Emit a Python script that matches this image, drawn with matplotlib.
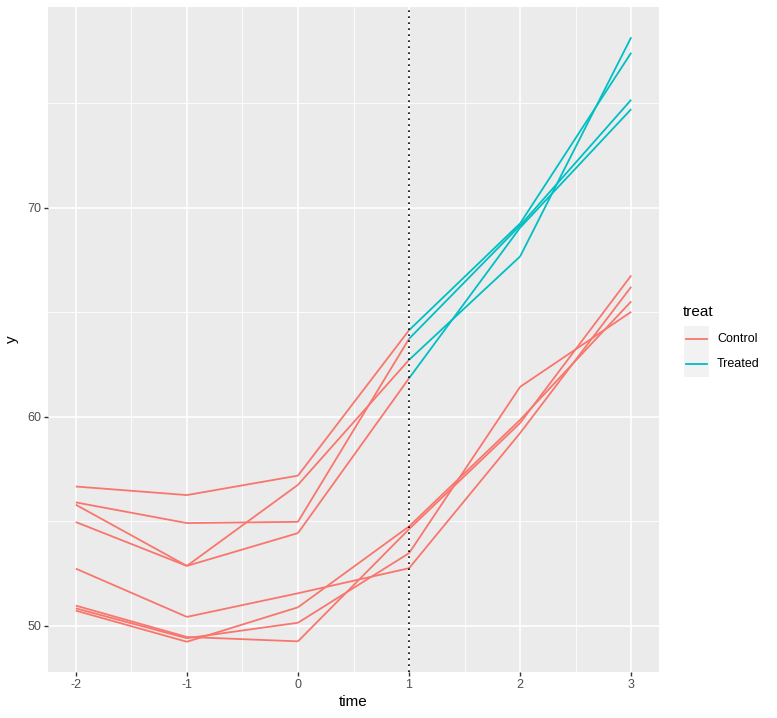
import matplotlib
matplotlib.use("Agg")
import matplotlib.pyplot as plt
from matplotlib.lines import Line2D
from matplotlib.patches import Rectangle
import numpy as np

plt.rcParams["font.family"] = ["Liberation Sans", "DejaVu Sans"]

times = [-2, -1, 0, 1, 2, 3]
treat_start = 1
units = ["u1", "u2", "u3", "u4", "u5", "u6", "u7", "u8"]
treated_units = ["u1", "u2", "u3", "u4"]
u1 = [56.66, 56.25, 57.18, 64.14, 69.25, 77.42]
u2 = [55.90, 54.91, 54.97, 63.73, 69.15, 75.17]
u3 = [55.79, 52.86, 56.74, 62.72, 67.67, 78.16]
u4 = [54.96, 52.86, 54.43, 61.84, 69.05, 74.72]
u5 = [52.73, 50.42, 51.55, 52.75, 59.22, 66.22]
u6 = [50.72, 49.23, 50.88, 54.75, 59.85, 65.52]
u7 = [50.83, 49.40, 50.14, 53.47, 61.43, 65.02]
u8 = [50.96, 49.46, 49.25, 54.62, 59.70, 66.76]
values = [u1, u2, u3, u4, u5, u6, u7, u8]
legend_labels = ["Control", "Treated"]
colors = {"Control": "#F8766D", "Treated": "#00BFC4"}

W, H = 777, 718
fig = plt.figure(figsize=(W / 100, H / 100), dpi=100)
L, R, T, B = 48, 659, 7, 672
ax = fig.add_axes([L / W, 1 - B / H, (R - L) / W, (B - T) / H])
ax.set_facecolor("#EBEBEB")
for s in ax.spines.values():
    s.set_visible(False)

for u, ys in zip(units, values):
    for i in range(len(times) - 1):
        grp = "Treated" if (u in treated_units and times[i] >= treat_start) else "Control"
        ax.plot(times[i:i + 2], ys[i:i + 2], color=colors[grp], lw=1.3,
                solid_capstyle="butt", zorder=3)

ax.axvline(treat_start, color="black", lw=1.2, linestyle=(0, (1, 2.6)), zorder=4)

allv = np.concatenate(values)
rng = allv.max() - allv.min()
ax.set_ylim(allv.min() - 0.05 * rng, allv.max() + 0.05 * rng)
ax.set_xlim(-2.25, 3.25)

ax.set_xticks(times)
ax.set_xticklabels([str(t) for t in times])
ax.set_yticks([50, 60, 70])
ax.set_xticks(np.arange(-1.5, 3.0, 1.0), minor=True)
ax.set_yticks([55, 65, 75], minor=True)
ax.grid(True, which="major", color="white", lw=1.2)
ax.grid(True, which="minor", color="white", lw=0.6)
ax.set_axisbelow(True)
ax.tick_params(which="major", length=3, width=1, color="#333333", labelcolor="#4D4D4D",
               labelsize=9, pad=2)
ax.tick_params(which="minor", length=0)
ax.set_xlabel("time", fontsize=11, labelpad=3)
ax.set_ylabel("y", fontsize=11, labelpad=6)

# legend
fig.text(683 / W, 1 - 312 / H, "treat", fontsize=11, va="center", ha="left")
fig.add_artist(Rectangle((684 / W, 1 - 377 / H), 25 / W, 51 / H, transform=fig.transFigure,
                         facecolor="#F2F2F2", edgecolor="none"))
for lab, yy in zip(legend_labels, [339, 364]):
    fig.add_artist(Line2D([686 / W, 707 / W], [1 - yy / H, 1 - yy / H], color=colors[lab],
                          lw=1.3, transform=fig.transFigure))
    fig.text(717 / W, 1 - yy / H, lab, fontsize=9, va="center", ha="left")

fig.savefig("out.png", dpi=100)
